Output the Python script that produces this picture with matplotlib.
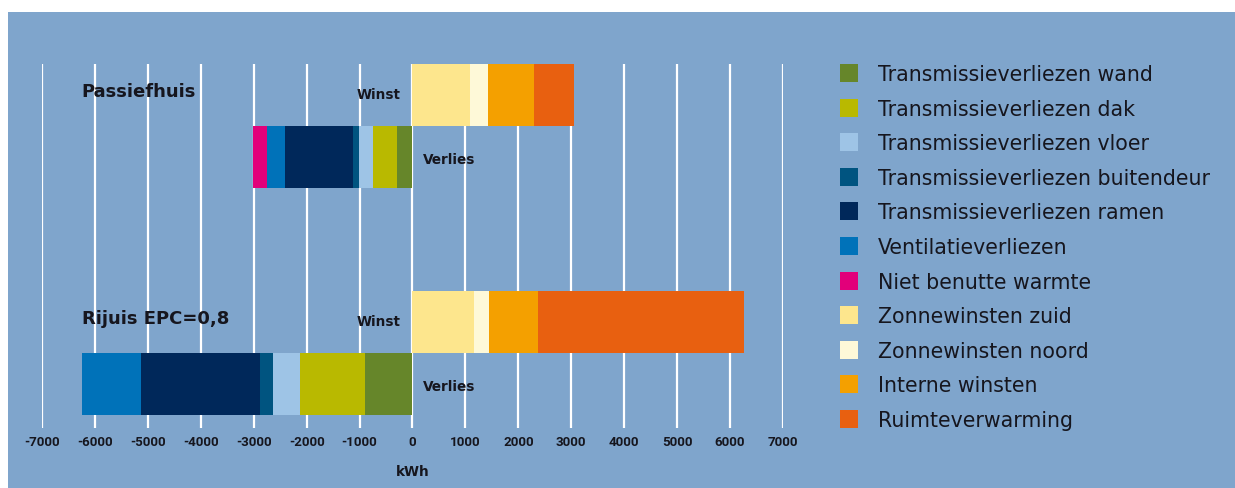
import numpy as np
import matplotlib
matplotlib.use("Agg")
import matplotlib.pyplot as plt
from matplotlib.patches import Rectangle

# ---------------- DATA ----------------

loss_names = ["Transmissieverliezen wand", "Transmissieverliezen dak",
              "Transmissieverliezen vloer", "Transmissieverliezen buitendeur",
              "Transmissieverliezen ramen", "Ventilatieverliezen",
              "Niet benutte warmte"]
gain_names = ["Zonnewinsten zuid", "Zonnewinsten noord",
              "Interne winsten", "Ruimteverwarming"]

passief_loss = [285, 470, 265, 110, 1270, 345, 265]
rijuis_loss = [900, 1220, 515, 255, 2240, 1110, 0]
passief_gain = [1080, 355, 865, 760]
rijuis_gain = [1155, 285, 925, 3900]

houses = ["Passiefhuis", "Rijuis EPC=0,8"]
ticks = list(range(-7000, 8000, 1000))

loss_colors = ["#66862a", "#b9b900", "#9ec4e6", "#005480", "#00285a",
               "#0072b9", "#e2007a"]
gain_colors = ["#fde68d", "#fef9d8", "#f4a000", "#e86010"]

BG = "#7fa5cc"
TXT = "#16161e"

# ---------------- FIGURE ----------------

W, H = 1235, 488
fig = plt.figure(figsize=(W / 100, H / 100), dpi=100)
fig.patch.set_facecolor("white")
fig.patches.append(Rectangle((8 / W, 0), 1, (H - 12) / H,
                             transform=fig.transFigure, facecolor=BG,
                             edgecolor="none", zorder=-10))

ax = fig.add_axes([42 / W, 60 / H, 741 / W, 364 / H])
ax.set_facecolor("none")
for s in ax.spines.values():
    s.set_visible(False)

ax.set_xlim(-7000, 7000)
ax.set_ylim(5.37, -0.5)

# bar rows: winst / verlies per house
rows = [(0, 1), (3.66, 4.66)]
losses = [passief_loss, rijuis_loss]
gains = [passief_gain, rijuis_gain]

ax.vlines(ticks, -0.5, 5.37, colors="white", linewidth=1.6, zorder=0)

for (yw, yv), lv, gv, name in zip(rows, losses, gains, houses):
    left = 0
    for v, c in zip(gv, gain_colors):
        ax.barh(yw, v, left=left, height=1.0, color=c, zorder=2)
        left += v
    left = 0
    for v, c in zip(lv, loss_colors):
        ax.barh(yv, -v, left=left, height=1.0, color=c, zorder=2)
        left -= v
    ax.text(-6250, yw - 0.05, name, fontsize=13, fontweight="bold",
            color=TXT, ha="left", va="center")
    ax.text(-230, yw, "Winst", fontsize=9.8, fontweight="bold",
            color=TXT, ha="right", va="center")
    ax.text(190, yv + 0.05, "Verlies", fontsize=9.8, fontweight="bold",
            color=TXT, ha="left", va="center")

ax.set_yticks([])
ax.set_xticks(ticks)
ax.set_xticklabels([str(t) for t in ticks], fontsize=9.6, fontweight="bold",
                   color=TXT, family=["Roboto", "DejaVu Sans"])
ax.tick_params(axis="x", length=0, pad=6)
ax.set_xlabel("kWh", fontsize=9.8, fontweight="bold", color=TXT, labelpad=11)

# ---------------- LEGEND ----------------

leg_names = loss_names + gain_names
leg_colors = loss_colors + gain_colors
for i, (n, c) in enumerate(zip(leg_names, leg_colors)):
    yc = 73 + i * 34.6
    fig.patches.append(Rectangle((840 / W, (H - yc - 9) / H), 18 / W, 18 / H,
                                 transform=fig.transFigure, facecolor=c,
                                 edgecolor="none"))
    fig.text(878 / W, (H - yc) / H, n, fontsize=14.8, color=TXT,
             ha="left", va="center_baseline")

fig.savefig("out.png", dpi=100, facecolor=fig.get_facecolor())
